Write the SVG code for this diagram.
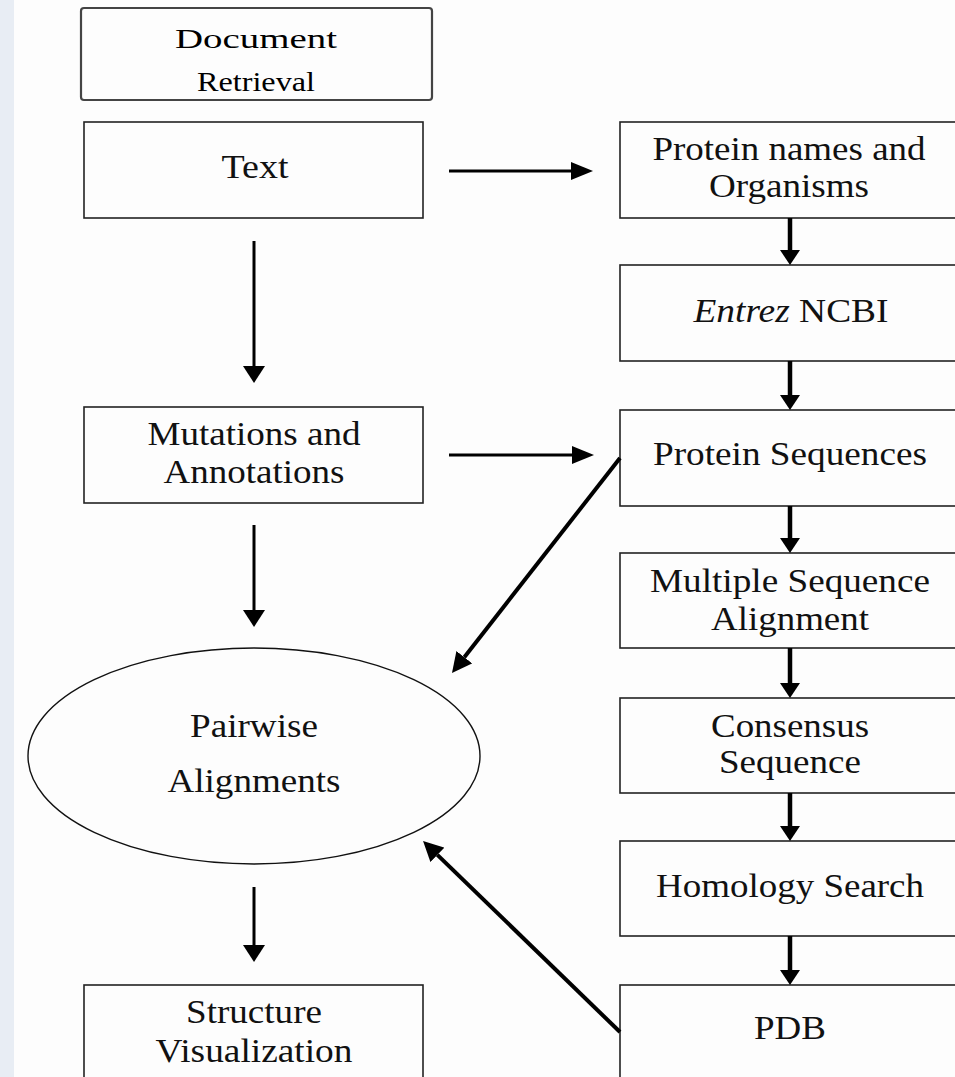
<svg xmlns="http://www.w3.org/2000/svg" width="955" height="1077" viewBox="0 0 955 1077">
<style>
.box{fill:none;stroke:#222;stroke-width:1.6}
.lbl{font-family:"Liberation Serif","Times New Roman",serif;font-size:33px;fill:#111;text-anchor:middle}
.thin{stroke:#000;stroke-width:3;fill:none}
.thick{stroke:#000;stroke-width:4.5;fill:none}
</style>
<defs>
<marker id="ha" markerUnits="userSpaceOnUse" markerWidth="17" markerHeight="22" refX="0" refY="11" orient="auto" viewBox="0 0 17 22"><path d="M0,0 L17,11 L0,22 z" fill="#000"/></marker>
<marker id="hb" markerUnits="userSpaceOnUse" markerWidth="22" markerHeight="18" refX="0" refY="9" orient="auto" viewBox="0 0 22 18"><path d="M0,0 L22,9 L0,18 z" fill="#000"/></marker>
<marker id="hc" markerUnits="userSpaceOnUse" markerWidth="15" markerHeight="20" refX="0" refY="10" orient="auto" viewBox="0 0 15 20"><path d="M0,0 L15,10 L0,20 z" fill="#000"/></marker>
<marker id="hd" markerUnits="userSpaceOnUse" markerWidth="20" markerHeight="20" refX="0" refY="10" orient="auto" viewBox="0 0 20 20"><path d="M0,0 L20,10 L0,20 z" fill="#000"/></marker>
</defs>
<rect x="0" y="0" width="955" height="1077" fill="#fdfdfd"/>
<rect x="0" y="0" width="14" height="1077" fill="#e8edf4"/>

<g id="doc-retrieval">
<rect x="81" y="8" width="351" height="92" rx="3" fill="none" stroke="#444" stroke-width="2.2"/>
<text class="lbl" x="256" y="48" textLength="162" lengthAdjust="spacingAndGlyphs" style="font-size:28px;fill:#000">Document</text>
<text class="lbl" x="256" y="91" textLength="118" lengthAdjust="spacingAndGlyphs" style="font-size:28px;fill:#000">Retrieval</text>
</g>

<g id="text">
<rect class="box" x="84" y="122" width="339" height="96"/>
<text class="lbl" x="255" y="178" textLength="67" lengthAdjust="spacingAndGlyphs">Text</text>
</g>

<g id="mutations">
<rect class="box" x="84" y="407" width="339" height="96"/>
<text class="lbl" x="254" y="445" textLength="213" lengthAdjust="spacingAndGlyphs">Mutations and</text>
<text class="lbl" x="254" y="483" textLength="181" lengthAdjust="spacingAndGlyphs">Annotations</text>
</g>

<g id="pairwise">
<ellipse cx="254" cy="756" rx="226" ry="108" fill="none" stroke="#111" stroke-width="1.4"/>
<text class="lbl" x="254" y="737" textLength="128" lengthAdjust="spacingAndGlyphs">Pairwise</text>
<text class="lbl" x="254" y="792" textLength="173" lengthAdjust="spacingAndGlyphs">Alignments</text>
</g>

<g id="structure">
<rect class="box" x="84" y="985" width="339" height="100"/>
<text class="lbl" x="254" y="1023" textLength="136" lengthAdjust="spacingAndGlyphs">Structure</text>
<text class="lbl" x="254" y="1062" textLength="197" lengthAdjust="spacingAndGlyphs">Visualization</text>
</g>

<g id="protein-names">
<rect class="box" x="620" y="122" width="345" height="96"/>
<text class="lbl" x="789" y="160" textLength="273" lengthAdjust="spacingAndGlyphs">Protein names and</text>
<text class="lbl" x="789" y="197" textLength="160" lengthAdjust="spacingAndGlyphs">Organisms</text>
</g>

<g id="entrez">
<rect class="box" x="620" y="265" width="345" height="96"/>
<text class="lbl" x="791" y="322" textLength="195" lengthAdjust="spacingAndGlyphs"><tspan font-style="italic">Entrez</tspan> NCBI</text>
</g>

<g id="protein-sequences">
<rect class="box" x="620" y="410" width="345" height="96"/>
<text class="lbl" x="790" y="465" textLength="274" lengthAdjust="spacingAndGlyphs">Protein Sequences</text>
</g>

<g id="msa">
<rect class="box" x="620" y="553" width="345" height="95"/>
<text class="lbl" x="790" y="592" textLength="280" lengthAdjust="spacingAndGlyphs">Multiple Sequence</text>
<text class="lbl" x="790" y="630" textLength="158" lengthAdjust="spacingAndGlyphs">Alignment</text>
</g>

<g id="consensus">
<rect class="box" x="620" y="698" width="345" height="95"/>
<text class="lbl" x="790" y="737" textLength="158" lengthAdjust="spacingAndGlyphs">Consensus</text>
<text class="lbl" x="790" y="773" textLength="142" lengthAdjust="spacingAndGlyphs">Sequence</text>
</g>

<g id="homology">
<rect class="box" x="620" y="841" width="345" height="95"/>
<text class="lbl" x="790" y="897" textLength="268" lengthAdjust="spacingAndGlyphs">Homology Search</text>
</g>

<g id="pdb">
<rect class="box" x="620" y="985" width="345" height="100"/>
<text class="lbl" x="790" y="1039" textLength="72" lengthAdjust="spacingAndGlyphs">PDB</text>
</g>

<g id="connectors">
<line class="thin" x1="254" y1="241" x2="254" y2="366" marker-end="url(#ha)"/>
<line class="thin" x1="254" y1="525" x2="254" y2="610" marker-end="url(#ha)"/>
<line class="thin" x1="254" y1="887" x2="254" y2="945" marker-end="url(#ha)"/>
<line class="thin" x1="449" y1="171" x2="571" y2="171" marker-end="url(#hb)"/>
<line class="thin" x1="449" y1="455" x2="572" y2="455" marker-end="url(#hb)"/>
<line class="thick" x1="790" y1="218" x2="790" y2="250" marker-end="url(#hc)"/>
<line class="thick" x1="790" y1="361" x2="790" y2="395" marker-end="url(#hc)"/>
<line class="thick" x1="790" y1="506" x2="790" y2="538" marker-end="url(#hc)"/>
<line class="thick" x1="790" y1="648" x2="790" y2="683" marker-end="url(#hc)"/>
<line class="thick" x1="790" y1="793" x2="790" y2="826" marker-end="url(#hc)"/>
<line class="thick" x1="790" y1="936" x2="790" y2="970" marker-end="url(#hc)"/>
<line class="thick" x1="620" y1="458" x2="464.3" y2="657.2" marker-end="url(#hd)" style="stroke-width:4"/>
<line class="thick" x1="620" y1="1032" x2="437.4" y2="854.9" marker-end="url(#hd)" style="stroke-width:4"/>
</g>
</svg>
